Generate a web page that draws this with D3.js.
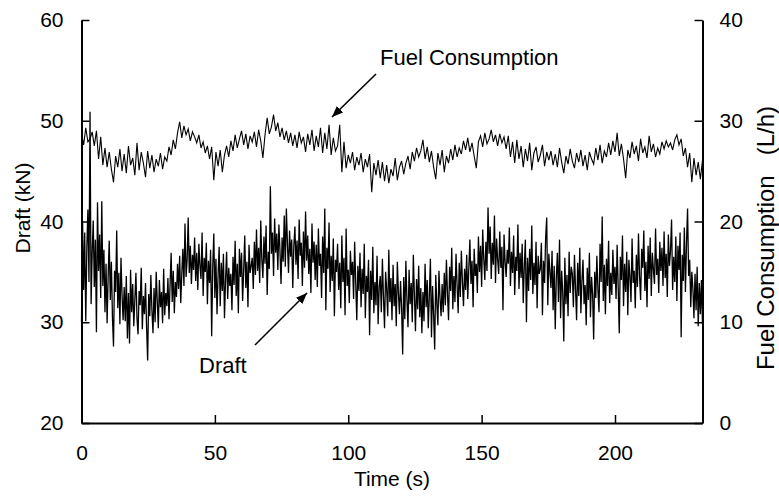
<!DOCTYPE html>
<html>
<head>
<meta charset="utf-8">
<script src="https://cdn.jsdelivr.net/npm/d3@7"></script>
<style>
  body { margin: 0; background: #fff; }
  text { font-family: "Liberation Sans", Arial, sans-serif; fill: #000; }
</style>
</head>
<body>
<svg width="779" height="496"></svg>
<script>
// Sampling interval of each logged series (s).
var draftStep = 0.4;
var fuelStep = 0.8;

// Draft (kN), one value every 0.4 s.
var draftValues = [
  30.0, 40.0, 33.2, 38.9, 30.1, 37.4, 41.2, 34.0, 50.9, 31.8, 36.9, 40.1, 33.5, 38.2, 29.0, 41.9, 35.1, 38.7, 32.4, 42.0,
  33.6, 37.2, 31.0, 35.8, 29.9, 34.7, 38.1, 32.2, 36.0, 30.5, 27.6, 35.1, 33.0, 39.1, 31.4, 34.9, 29.8, 36.4, 32.7, 30.2,
  33.5, 30.1, 34.6, 28.4, 32.9, 27.9, 35.2, 31.0, 33.8, 29.6, 32.2, 34.9, 30.4, 28.8, 33.1, 31.7, 35.4, 29.3, 32.6, 30.8,
  33.9, 29.5, 26.2, 32.8, 30.6, 34.7, 31.2, 28.9, 33.4, 30.0, 35.0, 32.1, 29.4, 34.2, 31.5, 33.0, 29.9, 35.3, 30.7, 32.9,
  31.6, 34.4, 30.3, 33.7, 36.9, 32.0, 35.1, 30.9, 34.0, 32.5, 35.8, 33.3, 36.6, 31.9, 34.8, 37.3, 33.6, 39.8, 34.5, 36.2,
  40.4, 34.9, 37.6, 33.8, 36.7, 35.2, 38.4, 34.1, 36.9, 33.2, 37.8, 35.6, 34.3, 38.9, 32.6, 36.4, 35.0, 37.9, 31.8, 36.1,
  33.9, 37.2, 28.6, 35.5, 38.8, 32.4, 36.3, 30.8, 34.7, 37.5, 31.6, 35.9, 33.1, 36.8, 30.4, 34.2, 37.0, 32.3, 35.4, 33.6,
  34.8, 31.2, 36.5, 33.7, 38.1, 32.6, 35.8, 30.9, 37.3, 34.5, 36.9, 32.1, 35.2, 38.6, 33.4, 36.0, 31.5, 37.7, 34.9, 35.6,
  36.4, 33.3, 38.0, 34.7, 39.2, 35.1, 37.4, 33.9, 40.1, 36.2, 34.4, 38.5, 35.8, 39.6, 32.7, 37.0, 35.3, 43.5, 36.8, 38.9,
  34.6, 40.3, 36.9, 38.8, 35.2, 39.7, 37.1, 33.8, 38.4, 36.0, 40.6, 35.5, 41.3, 37.8, 34.9, 39.1, 36.5, 38.2, 33.4, 37.6,
  39.5, 35.7, 38.1, 34.3, 40.2, 36.6, 37.9, 33.6, 39.0, 35.4, 41.0, 36.1, 38.6, 34.8, 37.3, 32.9, 39.8, 35.9, 38.0, 34.2,
  37.7, 33.5, 39.3, 35.6, 36.8, 32.4, 38.5, 34.9, 41.3, 31.2, 37.4, 35.3, 39.9, 33.0, 36.6, 34.1, 38.3, 30.6, 36.2, 35.0,
  37.8, 33.2, 35.9, 31.4, 38.6, 34.0, 36.4, 30.7, 39.3, 33.6, 35.2, 31.9, 37.1, 34.7, 36.0, 32.3, 38.0, 33.9, 30.2, 35.6,
  33.1, 36.9, 31.5, 35.3, 32.8, 37.8, 30.4, 34.6, 33.0, 36.2, 28.7, 35.1, 32.2, 37.5, 30.9, 34.0, 31.7, 36.6, 29.8, 33.5,
  34.6, 31.0, 36.3, 32.5, 29.4, 35.0, 33.3, 30.6, 37.2, 32.0, 34.4, 30.2, 35.7, 31.6, 33.8, 29.6, 36.0, 32.9, 30.8, 34.1,
  31.4, 26.8, 34.5, 30.3, 36.1, 32.2, 29.5, 35.2, 31.8, 33.9, 30.0, 36.7, 32.6, 29.1, 34.3, 31.3, 35.6, 30.5, 33.4, 28.9,
  33.0, 30.1, 35.8, 31.5, 34.2, 29.4, 32.7, 36.3, 28.5, 33.6, 30.8, 27.3, 34.7, 31.9, 29.7, 35.1, 32.4, 30.6, 33.8, 31.0,
  34.9, 31.7, 36.2, 32.8, 30.2, 35.5, 33.1, 37.4, 31.3, 34.6, 32.0, 36.8, 33.7, 30.9, 35.9, 32.5, 37.1, 34.0, 31.6, 35.3,
  33.2, 36.7, 32.3, 35.4, 38.2, 33.8, 36.1, 31.5, 37.3, 34.6, 35.8, 32.9, 38.5, 35.0, 37.6, 33.5, 39.2, 36.3, 34.2, 38.0,
  35.1, 41.4, 36.8, 39.5, 34.3, 37.9, 35.7, 40.6, 33.9, 38.3, 36.2, 34.8, 39.0, 35.4, 37.5, 31.2, 38.7, 36.0, 34.5, 37.2,
  35.8, 39.4, 33.6, 37.0, 34.9, 38.6, 32.7, 36.5, 35.1, 39.7, 33.3, 36.9, 34.4, 37.8, 31.9, 35.6, 38.2, 30.0, 36.4, 33.1,
  37.3, 34.2, 39.6, 32.8, 35.9, 33.7, 38.0, 31.4, 36.6, 34.8, 35.3, 37.9, 30.7, 36.1, 33.9, 38.4, 40.4, 31.7, 36.8, 35.0,
  33.4, 37.1, 31.2, 35.6, 29.3, 34.5, 36.9, 32.0, 38.2, 30.4, 35.1, 33.0, 28.1, 36.4, 31.8, 34.7, 30.6, 37.0, 32.9, 35.5,
  34.8, 31.5, 36.7, 33.3, 30.2, 35.9, 32.6, 37.4, 30.9, 34.1, 36.2, 31.8, 33.7, 29.7, 35.4, 32.2, 36.9, 30.5, 34.5, 32.8,
  28.3, 35.0, 32.4, 36.6, 33.2, 31.0, 37.8, 34.0, 40.5, 32.1, 35.7, 30.8, 36.3, 33.6, 38.1, 31.9, 34.9, 32.7, 37.2, 33.8,
  35.5, 32.3, 37.7, 33.4, 28.9, 36.5, 34.2, 38.6, 31.6, 35.8, 33.0, 37.0, 30.7, 36.2, 34.5, 32.0, 38.3, 33.9, 35.1, 31.4,
  36.7, 33.5, 38.8, 34.6, 32.2, 37.3, 35.4, 39.1, 33.1, 36.0, 31.5, 37.6, 34.3, 38.4, 32.6, 36.9, 35.2, 33.8, 39.3, 34.7,
  36.3, 32.9, 38.0, 35.1, 37.4, 33.6, 39.0, 34.4, 36.8, 32.5, 38.7, 35.6, 37.1, 40.2, 33.2, 36.5, 34.0, 38.5, 32.1, 37.6,
  35.2, 38.9, 28.5, 36.7, 34.1, 39.4, 33.0, 37.8, 41.3, 34.6, 36.2, 31.5, 35.0, 33.3, 30.4, 34.8, 31.2, 35.5, 29.6, 33.9,
  30.8, 34.2, 29.8
];

// Fuel consumption (L/h), one value every 0.8 s.
var fuelValues = [
  28.8, 27.6, 29.3, 27.9, 28.2, 28.9, 27.5, 29.0, 26.2, 28.4, 25.6, 27.3, 25.4, 26.9, 25.2, 23.9, 26.5, 25.4, 27.2, 25.0,
  26.7, 24.8, 27.5, 25.6, 26.3, 24.6, 27.8, 25.1, 26.9, 25.8, 24.4, 27.0, 25.3, 26.6, 24.9, 26.2, 25.5, 26.8, 25.2, 26.4,
  26.0, 27.4, 26.6, 28.1, 27.2, 28.8, 29.9, 28.3, 29.5, 28.6, 29.2, 28.0, 28.9, 28.4, 27.8, 28.6, 27.3, 27.9, 26.8, 27.5,
  26.2, 27.4, 24.1, 26.9, 25.5, 27.1, 24.9, 26.6, 27.5, 26.4, 28.0, 27.0, 28.6, 27.3, 28.2, 29.0, 27.6, 28.7, 27.2, 28.5,
  27.9, 28.9, 27.4, 29.1, 28.0, 26.3, 28.6, 30.3, 28.7, 29.4, 30.6, 29.0, 29.8, 28.4, 29.3, 28.1, 29.0, 27.8, 28.8, 27.5,
  28.6, 27.3, 28.9, 27.8, 28.4, 26.9, 28.7, 27.6, 29.1, 27.0, 28.5, 27.4, 29.3, 26.8, 28.8, 27.2, 29.6, 26.6, 28.3, 27.0,
  27.5, 29.6, 24.9, 27.9, 25.3, 26.6, 25.8, 26.9, 25.1, 26.4, 25.6, 26.8, 24.9, 26.2, 25.4, 26.7, 22.9, 25.8, 24.6, 26.1,
  24.3, 25.9, 24.0, 25.6, 23.8, 25.2, 24.5, 26.3, 24.1, 25.4, 26.0, 24.7, 25.8, 26.5, 25.2, 26.9, 26.0, 27.3, 26.4, 27.0,
  28.1, 26.2, 27.4, 25.9, 27.0, 25.4, 24.2, 26.8, 25.6, 27.1, 24.9, 26.5, 25.8, 27.2, 26.1, 27.6, 26.4, 27.3, 26.7, 28.0,
  27.1, 28.3, 26.9, 27.8, 26.5, 25.3, 27.9, 28.5, 27.4, 28.8, 27.7, 28.2, 29.1, 27.9, 28.6, 27.5, 28.7, 27.8, 28.4, 27.2,
  28.5, 26.4, 27.9, 25.8, 28.1, 26.2, 27.5, 25.4, 27.2, 26.0, 27.8, 25.1, 26.8, 27.4, 25.9, 26.6, 27.6, 25.5, 26.9, 26.1,
  27.0, 25.6, 26.7, 25.4, 27.3, 25.9, 24.8, 26.5, 25.7, 27.2, 26.0, 25.3, 26.8, 25.9, 27.1, 25.5, 26.6, 25.1, 26.9, 26.2,
  25.7, 27.3, 26.1, 27.6, 25.8, 27.0, 26.4, 27.8, 26.6, 28.0, 26.9, 28.8, 26.5, 27.7, 26.2, 24.3, 27.1, 26.3, 27.9, 26.7,
  27.5, 26.0, 28.2, 26.8, 27.4, 26.3, 28.5, 26.9, 27.7, 26.4, 27.3, 26.7, 27.9, 27.2, 28.0, 27.4, 27.8, 27.1, 28.1, 28.6,
  27.6, 28.2, 26.5, 27.3, 25.4, 26.8, 23.9, 26.3, 24.6, 25.9, 24.2, 26.1
];

// Tick values for the three axes.
var timeTicks = [0, 50, 100, 150, 200];
var draftTicks = [20, 30, 40, 50, 60];
var fuelTicks = [0, 10, 20, 30, 40];

var svg = d3.select("svg");

// Plot frame.
var plotLeft = 81.5, plotRight = 702.5, plotTop = 20, plotBottom = 423;

var x = d3.scaleLinear().domain([0, 232.8]).range([plotLeft, plotRight]);
var yDraft = d3.scaleLinear().domain([20, 60]).range([plotBottom, plotTop]);
var yFuel = d3.scaleLinear().domain([0, 40]).range([plotBottom, plotTop]);

// Lines.
var draftLine = d3.line()
    .x(function (d, i) { return x(i * draftStep); })
    .y(function (d) { return yDraft(d); });
var fuelLine = d3.line()
    .x(function (d, i) { return x(i * fuelStep); })
    .y(function (d) { return yFuel(d); });

svg.append("path")
    .datum(draftValues)
    .attr("d", draftLine)
    .attr("fill", "none")
    .attr("stroke", "#000")
    .attr("stroke-width", 1.3);

svg.append("path")
    .datum(fuelValues)
    .attr("d", fuelLine)
    .attr("fill", "none")
    .attr("stroke", "#000")
    .attr("stroke-width", 1.1);

// Axes, ticks pointing inwards.
function styleAxis(g) {
    g.select(".domain").attr("stroke", "#000").attr("stroke-width", 2);
    g.selectAll(".tick line").attr("stroke", "#000").attr("stroke-width", 1.5);
    g.selectAll(".tick text")
        .style("font-family", "'Liberation Sans', Arial, sans-serif")
        .style("font-size", "21px")
        .attr("fill", "#000");
}

svg.append("g")
    .attr("transform", "translate(0," + plotBottom + ")")
    .call(d3.axisBottom(x).tickValues(timeTicks).tickSizeInner(-8).tickSizeOuter(0).tickPadding(22))
    .call(styleAxis);

svg.append("g")
    .attr("transform", "translate(" + plotLeft + ",0)")
    .call(d3.axisLeft(yDraft).tickValues(draftTicks).tickSizeInner(-8).tickSizeOuter(0).tickPadding(18))
    .call(styleAxis);

svg.append("g")
    .attr("transform", "translate(" + plotRight + ",0)")
    .call(d3.axisRight(yFuel).tickValues(fuelTicks).tickSizeInner(-8).tickSizeOuter(0).tickPadding(17))
    .call(styleAxis);

// Axis titles.
svg.append("text")
    .attr("x", 392)
    .attr("y", 486)
    .attr("text-anchor", "middle")
    .style("font-size", "21px")
    .text("Time (s)");

svg.append("text")
    .attr("transform", "translate(30,208) rotate(-90)")
    .attr("text-anchor", "middle")
    .style("font-size", "21px")
    .text("Draft (kN)");

svg.append("text")
    .attr("transform", "translate(774,238) rotate(-90)")
    .attr("text-anchor", "middle")
    .attr("xml:space", "preserve")
    .style("font-size", "24px")
    .style("white-space", "pre")
    .text("Fuel Consumption   (L/h)");

// Annotations with arrows.
svg.append("defs").append("marker")
    .attr("id", "head")
    .attr("viewBox", "0 0 10 10")
    .attr("refX", 10)
    .attr("refY", 5)
    .attr("markerWidth", 7)
    .attr("markerHeight", 7)
    .attr("markerUnits", "strokeWidth")
    .attr("orient", "auto")
    .append("path")
    .attr("d", "M0,1L10,5L0,9Z")
    .attr("fill", "#000");

svg.append("text")
    .attr("x", 380)
    .attr("y", 65)
    .style("font-size", "22px")
    .text("Fuel Consumption");

svg.append("line")
    .attr("x1", 376).attr("y1", 74)
    .attr("x2", 332).attr("y2", 117)
    .attr("stroke", "#000")
    .attr("stroke-width", 1.6)
    .attr("marker-end", "url(#head)");

svg.append("text")
    .attr("x", 199)
    .attr("y", 373)
    .style("font-size", "22px")
    .text("Draft");

svg.append("line")
    .attr("x1", 255).attr("y1", 345)
    .attr("x2", 307).attr("y2", 293)
    .attr("stroke", "#000")
    .attr("stroke-width", 1.6)
    .attr("marker-end", "url(#head)");
</script>
</body>
</html>
